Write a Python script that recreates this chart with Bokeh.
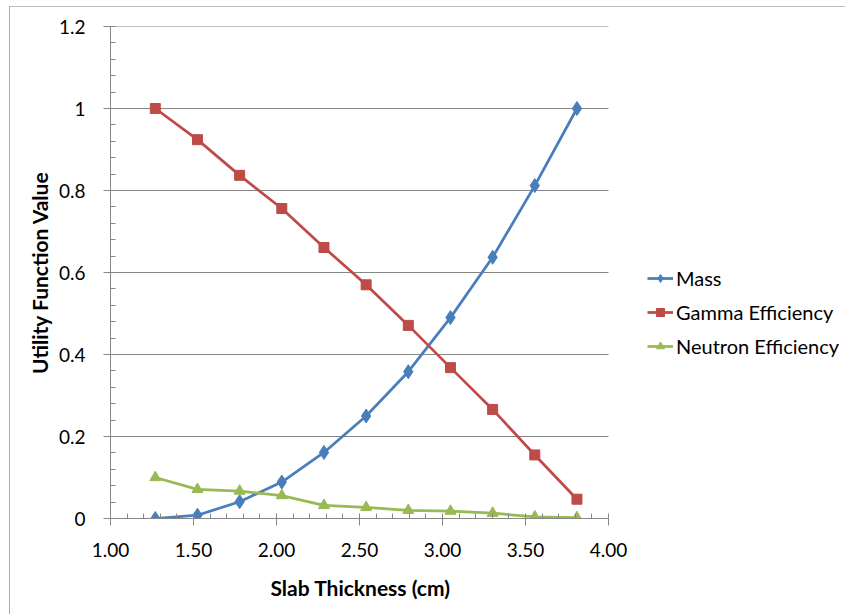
import numpy as np
from bokeh.plotting import figure
from bokeh.models import FixedTicker, Legend, LegendItem, Range1d
from bokeh.embed import file_html
from bokeh.resources import INLINE

# ---- data ----
thickness = [1.27, 1.524, 1.778, 2.032, 2.286, 2.54, 2.794, 3.048, 3.302, 3.556, 3.81]
mass = [0.0, 0.008, 0.041, 0.089, 0.161, 0.250, 0.358, 0.490, 0.637, 0.812, 1.0]
gamma_eff = [1.0, 0.924, 0.837, 0.756, 0.661, 0.570, 0.471, 0.368, 0.266, 0.155, 0.047]
neutron_eff = [0.100, 0.071, 0.067, 0.056, 0.032, 0.027, 0.020, 0.018, 0.013, 0.004, 0.002]

series_names = ["Mass", "Gamma Efficiency", "Neutron Efficiency"]

x_ticks = [1.0, 1.5, 2.0, 2.5, 3.0, 3.5, 4.0]
x_tick_labels = ["1.00", "1.50", "2.00", "2.50", "3.00", "3.50", "4.00"]
y_ticks = [0.0, 0.2, 0.4, 0.6, 0.8, 1.0, 1.2]
y_tick_labels = ["0", "0.2", "0.4", "0.6", "0.8", "1", "1.2"]

x_title = "Slab Thickness (cm)"
y_title = "Utility Function Value"

# ---- styling / layout ----
FONT = "Lato"
AXIS_GRAY = "#868686"
colors = ["#4A7EBB", "#BE4B48", "#98B954"]

X_MIN, X_MAX = 1.0, 4.0
Y_MIN, Y_MAX = 0.0, 1.2
AXIS_PX = 498          # pixel length of the x axis (1.00 .. 4.00)
FRAME_PX = 736         # frame extends to the right edge to host the legend
x_view_end = X_MIN + (X_MAX - X_MIN) * FRAME_PX / AXIS_PX

p = figure(
    width=836, height=608,
    x_range=Range1d(X_MIN, x_view_end), y_range=Range1d(Y_MIN, Y_MAX),
    output_backend="svg", toolbar_location=None,
    title=x_title, title_location="below",
    min_border_left=100, min_border_right=0,
    min_border_top=19, min_border_bottom=97,
    margin=(6, 0, 0, 9),
    styles={"border-left": "1px solid #ABABAB", "border-top": "1px solid #BDBDBD"},
)
p.outline_line_color = None
p.background_fill_color = "white"
p.border_fill_color = "white"

# x axis title, centred under the 1.00 .. 4.00 axis
p.title.align = "left"
p.title.offset = 160
p.title.standoff = 27
p.title.text_font = FONT
p.title.text_font_size = "21px"
p.title.text_font_style = "bold"
p.title.text_color = "black"

x_minor = [round(v, 2) for v in np.arange(X_MIN, X_MAX + 0.001, 0.1)]
y_minor = [round(v, 3) for v in np.arange(Y_MIN, Y_MAX + 0.0001, 0.04)]

p.xaxis.ticker = FixedTicker(ticks=x_ticks, minor_ticks=x_minor)
p.yaxis.ticker = FixedTicker(ticks=y_ticks, minor_ticks=y_minor)
p.xaxis.major_label_overrides = dict(zip(x_ticks, x_tick_labels))
p.yaxis.major_label_overrides = dict(zip(y_ticks, y_tick_labels))
p.xaxis.bounds = (X_MIN, X_MAX)

for ax in (p.xaxis[0], p.yaxis[0]):
    ax.axis_line_color = AXIS_GRAY
    ax.axis_line_width = 1
    ax.major_tick_line_color = AXIS_GRAY
    ax.minor_tick_line_color = AXIS_GRAY
    ax.major_tick_in = 0
    ax.major_tick_out = 7
    ax.minor_tick_in = 5
    ax.minor_tick_out = 0
    ax.major_label_text_font = FONT
    ax.major_label_text_font_size = "19px"
    ax.major_label_text_color = "black"
    ax.axis_label_text_font = FONT
    ax.axis_label_text_font_size = "21px"
    ax.axis_label_text_font_style = "bold"
    ax.axis_label_text_color = "black"

p.yaxis.axis_label = y_title
p.xaxis.major_label_standoff = 17
p.yaxis.major_label_standoff = 18
p.yaxis.axis_label_standoff = 4

# horizontal gridlines only across the axis extent
p.xgrid.visible = False
p.ygrid.visible = False
p.segment(x0=[X_MIN] * len(y_ticks), x1=[X_MAX] * len(y_ticks), y0=y_ticks, y1=y_ticks,
          line_color=AXIS_GRAY, line_width=1)

items = []
ys = [mass, gamma_eff, neutron_eff]
markers = ["diamond", "square", "triangle"]
sizes = [14, 10, 11]
for name, yv, c, m, s in zip(series_names, ys, colors, markers, sizes):
    ln = p.line(thickness, yv, line_color=c, line_width=2.75)
    sc = p.scatter(thickness, yv, marker=m, size=s, fill_color=c, line_color=c)
    items.append(LegendItem(label=name, renderers=[ln, sc]))

legend = Legend(items=items, location=(537, 160))
legend.padding = 0
legend.margin = 0
legend.spacing = 10
legend.glyph_height = 20
legend.glyph_width = 26
legend.label_standoff = 3
legend.label_height = 20
legend.border_line_color = None
legend.background_fill_alpha = 0
legend.label_text_font = FONT
legend.label_text_font_size = "20px"
legend.label_text_color = "black"
p.add_layout(legend, "center")

open("out.html", "w").write(file_html(p, INLINE))
